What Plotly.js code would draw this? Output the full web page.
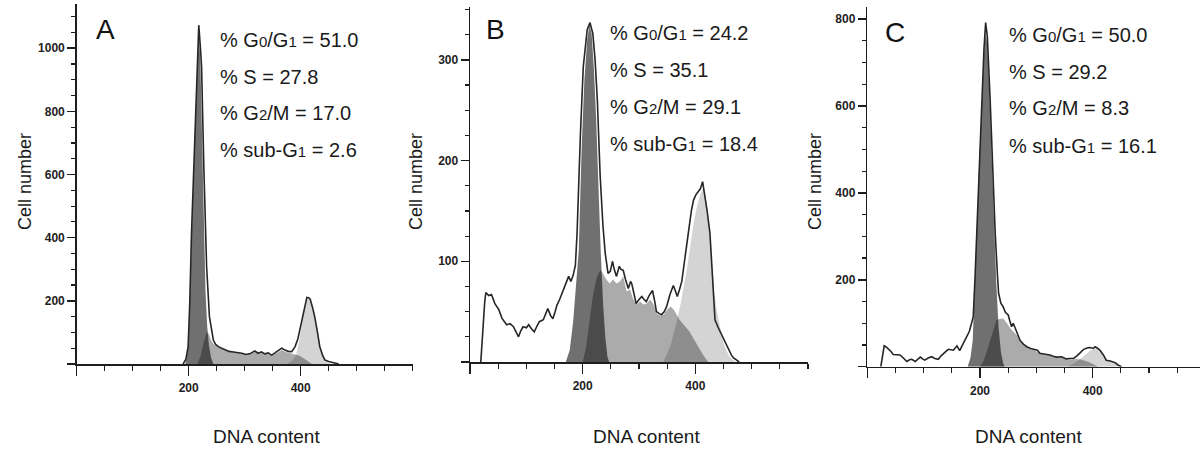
<!DOCTYPE html>
<html>
<head>
<meta charset="utf-8">
<script src="https://cdn.plot.ly/plotly-3.0.1.min.js"></script>
<style>html,body{margin:0;padding:0;background:#fff;}#chart{width:1200px;height:452px;}</style>
</head>
<body>
<div id="chart"></div>
<script>
// ---------- Panel A (DNA content, cell number) ----------
const aTotalX = [190,195,199,202,205,208,211,215,218,221,223,227,232,237,244,248,253,259,266,272,280,288,295,302,310,318,324,330,336,342,348,354,360,366,372,378,384,390,395,399,404,408,411,414,417,421,425,430,434,439,443,450,456,461,468];
const aTotalY = [0,15,55,200,414,570,730,920,1073,1000,941,624,308,150,76,62,55,50,45,40,38,36,34,30,33,41,34,38,32,35,28,35,42,50,44,40,39,55,80,113,160,195,211,210,205,180,150,100,55,28,13,8,5,2,0];
const aG1X = [194,198,202,205,208,211,215,218,221,224,227,230,233,236,240,244];
const aG1Y = [0,40,190,400,560,720,910,1060,950,700,420,230,120,60,20,0];
const aSX = [216,222,227,232,236,240,245,250,256,262,270,280,290,298,306,314,320,326,334,342,350,358,366,374,382,390,398,404,410,415,420];
const aSY = [0,30,70,102,95,75,62,56,50,46,41,38,35,32,31,34,38,33,35,31,29,36,44,38,34,30,26,20,12,5,0];
const aG2X = [375,385,392,398,403,408,412,416,420,425,430,435,440,445,450,455];
const aG2Y = [0,10,30,80,140,190,208,205,185,150,105,60,30,12,3,0];
const aStats = ["51.0","27.8","17.0","2.6"];

// ---------- Panel B ----------
const bTotalX = [19,22,26,28,33,38,44,51,57,65,71,77,82,86,90,94,100,104,109,114,119,123,130,134,138,143,147,151,154,159,163,169,175,179,183,187,190,196,201,208,213,218,222,226,231,236,240,245,249,253,256,260,265,268,272,276,281,285,287,291,295,300,305,309,313,318,324,328,331,336,340,345,349,355,361,365,368,372,376,382,388,393,397,401,405,409,413,415,417,421,426,430,435,440,446,452,459,464,468,473,478];
const bTotalY = [0,30,60,69,66,67,58,52,43,37,38,35,30,25,31,35,34,37,33,30,36,40,42,47,53,46,43,50,56,62,68,76,85,80,86,96,128,227,293,330,337,326,300,260,185,135,108,88,90,100,92,85,95,92,91,82,73,80,78,68,58,62,65,62,60,66,71,60,50,48,47,50,55,67,76,70,65,72,80,105,131,150,161,166,169,172,179,172,168,150,128,90,42,35,28,20,12,7,4,2,0];
const bG1X = [170,177,183,187,193,198,203,208,212,216,220,224,228,232,236,240,244,247];
const bG1Y = [0,12,40,72,111,210,280,320,335,325,290,240,170,110,60,25,5,0];
const bSX = [200,206,212,218,224,228,232,236,242,248,254,260,266,272,278,284,290,296,302,308,314,320,326,332,338,344,350,356,362,366,372,378,384,390,396,402,408,414,419,423];
const bSY = [0,15,40,65,82,88,91,88,82,78,82,78,80,85,70,72,62,57,60,57,58,62,57,48,46,47,52,55,52,48,42,38,34,30,24,18,12,7,3,0];
const bG2X = [343,350,357,363,367,373,379,385,391,397,403,408,413,417,421,426,430,434,438,443,448,452,456,460,465,471];
const bG2Y = [0,8,18,30,40,55,72,92,115,138,155,165,172,168,152,125,95,68,52,36,24,16,10,6,3,0];
const bStats = ["24.2","35.1","29.1","18.4"];

// ---------- Panel C ----------
const cTotalX = [24,27,30,33,37,42,46,52,58,64,70,75,79,85,90,94,98,102,108,114,120,126,131,135,140,144,149,153,159,164,169,173,177,181,185,188,191,194,198,203,207,210,213,218,222,227,231,233,237,241,245,250,253,256,259,262,265,268,271,277,283,290,296,302,306,313,320,324,330,336,345,353,360,366,372,378,384,390,396,401,404,408,413,419,424,431,440,445,451];
const cTotalY = [0,30,48,46,42,35,28,27,27,20,12,16,17,12,18,22,18,15,20,23,19,17,25,31,36,40,39,38,48,37,50,61,72,81,100,115,200,307,450,613,730,792,760,614,460,307,210,169,146,138,125,119,105,92,100,90,84,70,61,52,46,42,40,38,31,30,28,27,24,22,23,18,19,19,25,33,40,43,44,42,46,43,38,27,15,13,9,4,0];
const cG1X = [178,183,187,190,194,198,203,207,210,213,217,221,225,229,233,237,241,244];
const cG1Y = [0,20,60,150,300,450,610,720,770,740,620,470,320,190,90,35,8,0];
const cSX = [200,206,212,218,224,229,234,241,248,254,260,266,272,278,284,290,298,306,314,322,330,338,346,354,362,370,378,386,394,400,406,410];
const cSY = [0,12,35,62,88,107,110,111,100,88,80,72,58,50,44,40,37,30,29,27,23,21,22,17,16,18,17,14,10,6,2,0];
const cG2X = [355,362,370,378,384,390,396,401,405,410,414,419,424,430,436,442,448,452];
const cG2Y = [0,4,10,18,25,33,38,40,42,40,35,26,16,12,8,4,1,0];
const cStats = ["50.0","29.2","8.3","16.1"];

const panelLetters = ["A","B","C"];
const statNames = ["% G<span style='font-size:15px'>0</span>/G<span style='font-size:15px'>1</span> = ",
                   "% S = ",
                   "% G<span style='font-size:15px'>2</span>/M = ",
                   "% sub-G<span style='font-size:15px'>1</span> = "];
const xTitle = "DNA content";
const yTitle = "Cell number";

// ---------- styling / layout ----------
const W = 1200, H = 452;
const FONT = "Liberation Sans, Arial, sans-serif";
const AX = "#1e1e1e";
const fillG2 = "rgba(0,0,0,0.17)";
const fillS  = "rgba(0,0,0,0.33)";
const fillG1 = "rgba(0,0,0,0.56)";

const panels = [
  {tx:aTotalX, ty:aTotalY, g1x:aG1X, g1y:aG1Y, sx:aSX, sy:aSY, g2x:aG2X, g2y:aG2Y, stats:aStats,
   px:[76.7,412.7], py:[364,4], xr:[0,600], yr:[0,1140], ymaj:200, ymin:50, ymaxTick:1000,
   letter:[105,30], statX:218, statY:[40,77,113,150], yTitleX:25, xTitleX:266},
  {tx:bTotalX, ty:bTotalY, g1x:bG1X, g1y:bG1Y, sx:bSX, sy:bSY, g2x:bG2X, g2y:bG2Y, stats:bStats,
   px:[470.1,807.9], py:[362,7], xr:[0,600], yr:[0,352.5], ymaj:100, ymin:25, ymaxTick:300,
   letter:[495,30], statX:608, statY:[33,70,107,144], yTitleX:416, xTitleX:646},
  {tx:cTotalX, ty:cTotalY, g1x:cG1X, g1y:cG1Y, sx:cSX, sy:cSY, g2x:cG2X, g2y:cG2Y, stats:cStats,
   px:[867.3,1200], py:[366.7,6.7], xr:[0,590.4], yr:[0,828.5], ymaj:200, ymin:50, ymaxTick:800,
   letter:[895,32], statX:1007, statY:[35,72,108,146], yTitleX:815, xTitleX:1028}
];

const traces = [];
const layout = {
  width: W, height: H,
  margin: {l:0, r:0, t:0, b:0},
  paper_bgcolor: "#fff", plot_bgcolor: "rgba(0,0,0,0)",
  showlegend: false,
  font: {family: FONT, color: "#1a1a1a"},
  annotations: []
};

panels.forEach((p, i) => {
  const n = i === 0 ? "" : String(i + 1);
  const xa = "x" + n, ya = "y" + n;
  const fillTrace = (x, y, c) => ({x, y, xaxis: xa, yaxis: ya, type: "scatter", mode: "lines",
    fill: "tozeroy", fillcolor: c, line: {width: 0, color: c}, hoverinfo: "skip"});
  traces.push(fillTrace(p.g2x, p.g2y, fillG2));
  traces.push(fillTrace(p.sx, p.sy, fillS));
  traces.push(fillTrace(p.g1x, p.g1y, fillG1));
  traces.push({x: p.tx, y: p.ty, xaxis: xa, yaxis: ya, type: "scatter", mode: "lines",
    line: {width: 1.6, color: "#262626"}, hoverinfo: "skip"});

  const yvals = [], ytext = [];
  for (let v = 0; v <= p.ymaxTick; v += p.ymaj) { yvals.push(v); ytext.push(v === 0 ? "" : String(v)); }

  layout["xaxis" + n] = {
    domain: [p.px[0] / W, p.px[1] / W], range: p.xr, anchor: ya,
    showline: true, linecolor: AX, linewidth: 1.5, zeroline: false, showgrid: false,
    ticks: "outside", ticklen: 10, tickwidth: 1.5, tickcolor: AX,
    tickmode: "array", tickvals: [0, 200, 400], ticktext: ["", "200", "400"],
    tickfont: {family: FONT, size: 12, color: AX, weight: "bold"},
    ticklabelstandoff: 2,
    minor: {tick0: 0, dtick: 50, ticks: "outside", ticklen: 5, tickwidth: 1.2, tickcolor: AX, showgrid: false},
    fixedrange: true
  };
  layout["yaxis" + n] = {
    domain: [1 - p.py[0] / H, 1 - p.py[1] / H], range: p.yr, anchor: xa,
    showline: true, linecolor: AX, linewidth: 1.5, zeroline: false, showgrid: false,
    ticks: "outside", ticklen: 8, tickwidth: 1.5, tickcolor: AX,
    tickmode: "array", tickvals: yvals, ticktext: ytext,
    tickfont: {family: FONT, size: 12, color: AX, weight: "bold"},
    minor: {tick0: 0, dtick: p.ymin, ticks: "outside", ticklen: 4, tickwidth: 1.2, tickcolor: AX, showgrid: false},
    fixedrange: true
  };

  layout.annotations.push({xref: "paper", yref: "paper", x: p.letter[0] / W, y: 1 - p.letter[1] / H,
    text: panelLetters[i], showarrow: false, xanchor: "center", yanchor: "middle",
    font: {family: FONT, size: 28, color: "#111"}});
  p.stats.forEach((s, k) => {
    layout.annotations.push({xref: "paper", yref: "paper", x: p.statX / W, y: 1 - p.statY[k] / H,
      text: statNames[k] + s, showarrow: false, xanchor: "left", yanchor: "middle",
      font: {family: FONT, size: 20, color: "#1a1a1a"}});
  });
  layout.annotations.push({xref: "paper", yref: "paper", x: p.yTitleX / W, y: 1 - 182 / H,
    text: yTitle, textangle: -90, showarrow: false, xanchor: "center", yanchor: "middle",
    font: {family: FONT, size: 18, color: "#1a1a1a"}});
  layout.annotations.push({xref: "paper", yref: "paper", x: p.xTitleX / W, y: 1 - 436 / H,
    text: xTitle, showarrow: false, xanchor: "center", yanchor: "middle",
    font: {family: FONT, size: 19, color: "#1a1a1a"}});
});

Plotly.newPlot("chart", traces, layout, {staticPlot: true, displayModeBar: false});
</script>
</body>
</html>
